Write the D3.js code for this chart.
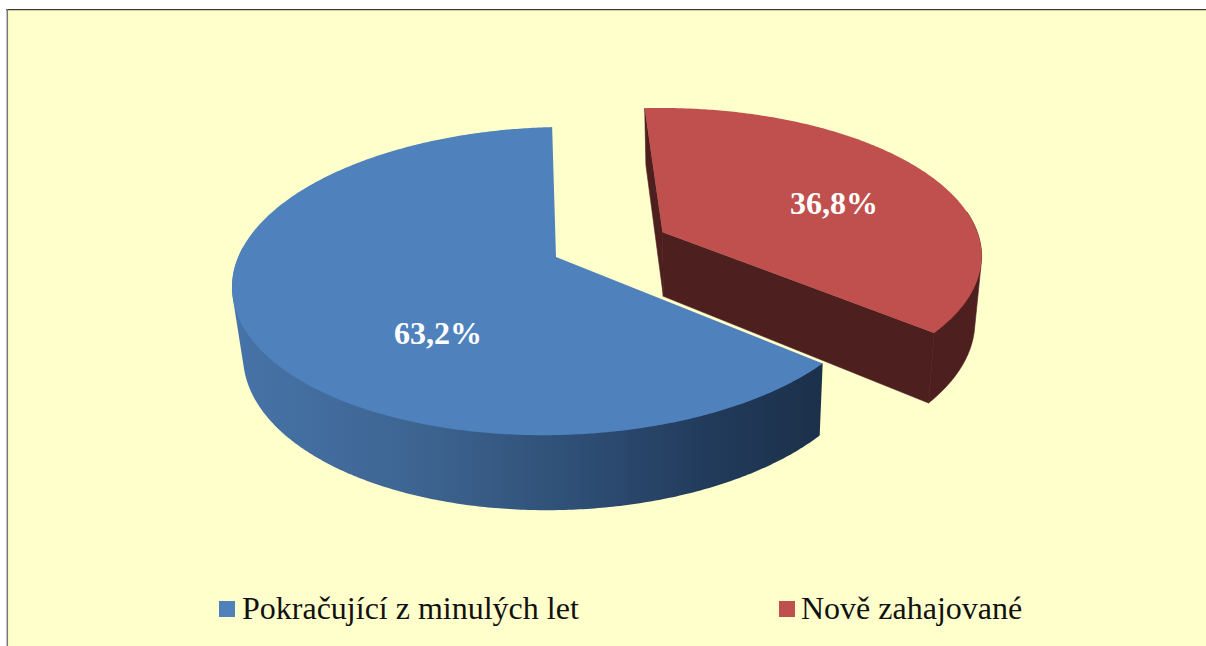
<!DOCTYPE html>
<html><head><meta charset="utf-8">
<script src="https://d3js.org/d3.v7.min.js"></script>
<style>html,body{margin:0;padding:0;background:#fff}svg{display:block}</style>
</head><body><svg id="c" width="1206" height="646"></svg>
<script>
const categories = ["Pokračující z minulých let", "Nově zahajované"];
const values = [63.2, 36.8];
const labels = ["63,2%", "36,8%"];
const topColors = ["#4F81BD", "#C0504D"];
const wallColor = "#4D1F1F";

const svg = d3.select("#c");
svg.append("rect").attr("x",7).attr("y",10).attr("width",1199).attr("height",636).attr("fill","#FFFFCC");
svg.append("line").attr("x1",6).attr("x2",1206).attr("y1",9.6).attr("y2",9.6).attr("stroke","#3a3a36").attr("stroke-width",1.4);
svg.append("line").attr("x1",7.3).attr("x2",7.3).attr("y1",9).attr("y2",646).attr("stroke","#777").attr("stroke-width",1.5);

const defs = svg.append("defs");
const grad = defs.append("linearGradient").attr("id","blueWall").attr("gradientUnits","userSpaceOnUse")
  .attr("x1",235).attr("x2",825).attr("y1",0).attr("y2",0);
[[0,"#4673A8"],[0.3,"#3E6592"],[0.55,"#305178"],[0.8,"#223B5C"],[1,"#1B3049"]]
  .forEach(s=>grad.append("stop").attr("offset",s[0]).attr("stop-color",s[1]));

// pie angles: red slice runs clockwise from the top, blue the remainder
const rot = -0.8 * Math.PI/180;
const pie = d3.pie().value(d=>d).sort(null)
  .startAngle(rot - 2*Math.PI*values[0]/100).endAngle(rot - 2*Math.PI*values[0]/100 + 2*Math.PI);
const arcs = pie(values);

// perspective projection of the unit disc to the top plane
const cx=556, cy=257, rx=320, ry=150.3, k=0.156, shear=6;
const project = (u,v)=>{const w=1+k*v; return [cx+rx*u/w, cy-(ry*v+shear*u)/w];};
// bottom plane derived from the top plane
const bx=d3.scaleLinear().domain([232,823]).range([243,820]);
const byScales=[
  d3.scaleLinear().domain([435,363]).range([510,435]),
  d3.scaleLinear().domain([109,333]).range([166,403])
];
const lower=(p,i)=>[bx(p[0]),byScales[i](p[1])];

const explode=[0,0.375];
function offset(d,i){const mid=(d.startAngle+d.endAngle)/2;return [Math.sin(mid)*explode[i],Math.cos(mid)*explode[i]];}
function rimAngles(d){
  const n=Math.ceil((d.endAngle-d.startAngle)/0.01);
  return d3.range(n+1).map(j=>d.startAngle+(d.endAngle-d.startAngle)*j/n);
}
function rimPoint(d,i,a){const o=offset(d,i);return project(o[0]+Math.sin(a),o[1]+Math.cos(a));}
const apex=(d,i)=>{const o=offset(d,i);return project(o[0],o[1]);};
const line=d3.line();
const closed=p=>line(p)+"Z";

arcs.forEach((d,i)=>{
  const g=svg.append("g");
  const angles=rimAngles(d);
  const R=angles.map(a=>rimPoint(d,i,a));
  const A=apex(d,i), L=R.map(p=>lower(p,i)), LA=lower(A,i);
  const fill=i===0?"url(#blueWall)":wallColor;
  // outer wall: hull of the camera-facing part of the rim, top and bottom
  const front=angles.map((a,j)=>[a,j]).filter(e=>Math.cos(e[0])<=0.1).map(e=>e[1]);
  const hull=d3.polygonHull([...front.map(j=>R[j]),...front.map(j=>L[j])]);
  const wall=g.append("path").attr("d",closed(hull)).attr("fill",fill);
  if(i===1){
    wall.attr("stroke",wallColor).attr("stroke-width",0.6);
    [[A,R[R.length-1],L[L.length-1],LA],[A,R[0],L[0],LA]].forEach(q=>
      g.append("path").attr("d",closed(q)).attr("fill",wallColor).attr("stroke",wallColor).attr("stroke-width",0.6));
  }
  g.append("path").attr("d",closed([A,...R])).attr("fill",topColors[i]);
});

const F="'Liberation Serif','Times New Roman',serif";
const labelPos=[[438,344],[834,214]];
labels.forEach((t,i)=>svg.append("text").attr("x",labelPos[i][0]).attr("y",labelPos[i][1])
  .attr("text-anchor","middle").attr("font-family",F).attr("font-weight","bold").attr("font-size",32)
  .attr("fill","#fff").text(t));

const legendX=[219,779];
categories.forEach((t,i)=>{
  svg.append("rect").attr("x",legendX[i]).attr("y",601).attr("width",16).attr("height",16).attr("fill",topColors[i]);
  svg.append("text").attr("x",legendX[i]+23-i).attr("y",619).attr("font-family",F).attr("font-size",32)
    .attr("fill","#111").text(t);
});
</script></body></html>
